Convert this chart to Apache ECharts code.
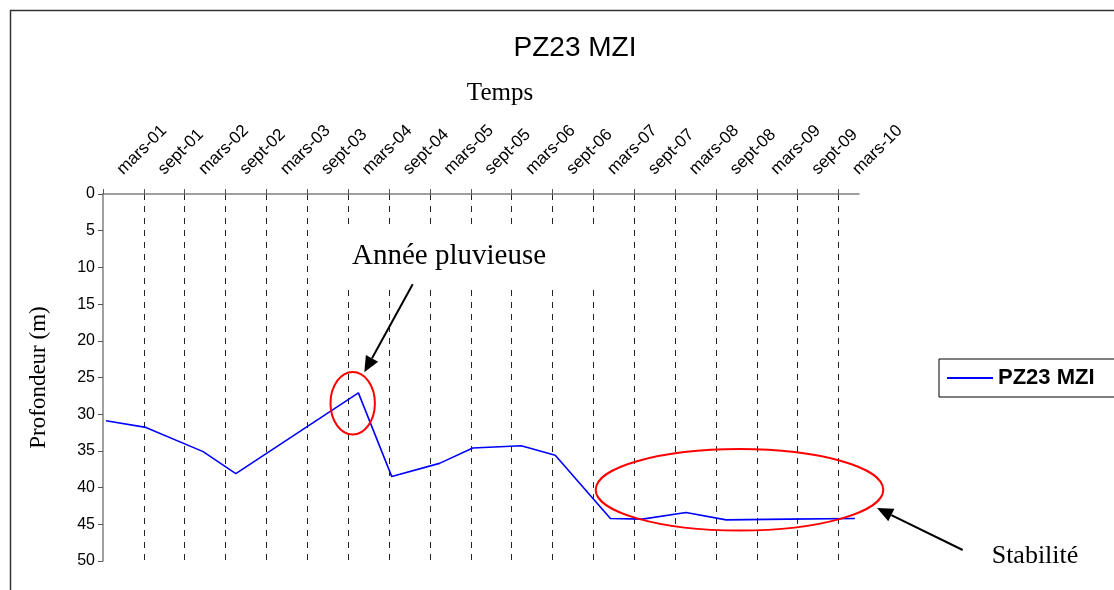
<!DOCTYPE html>
<html><head><meta charset="utf-8">
<script src="https://cdn.jsdelivr.net/npm/echarts@6/dist/echarts.min.js"></script>
<style>html,body{margin:0;padding:0;background:#fff}#c{width:1114px;height:590px}</style>
</head><body><div id="c"></div>
<script>
// ---- data ----
const chartTitle = 'PZ23 MZI';
const seriesName = 'PZ23 MZI';
const xAxisTitle = 'Temps';
const yAxisTitle = 'Profondeur (m)';
const tickLabels = ['mars-01','sept-01','mars-02','sept-02','mars-03','sept-03','mars-04','sept-04','mars-05','sept-05','mars-06','sept-06','mars-07','sept-07','mars-08','sept-08','mars-09','sept-09','mars-10'];
const obsDates = ['2001-03-14','2001-09-10','2002-05-22','2002-10-16','2004-04-16','2004-09-13','2005-04-13','2005-09-10','2006-04-13','2006-09-13','2007-05-16','2007-10-07','2008-04-19','2008-10-16','2009-07-20','2010-05-13'];
const depthValues = [30.9,31.8,35.1,38.1,27.1,38.5,36.7,34.6,34.3,35.6,44.2,44.3,43.4,44.4,44.3,44.2];
const noteRain = 'Année pluvieuse';
const noteStable = 'Stabilité';

// months since mars-01
function monthOffset(d){ const p = d.split('-').map(Number); return (p[0]-2001)*12 + (p[1]-3) + (p[2]-1)/30; }
const seriesData = obsDates.map((d,i)=>[monthOffset(d), depthValues[i]]);

const SANS = 'Liberation Sans, Arial, sans-serif';
const SERIF = 'Liberation Serif, Times New Roman, serif';

function arrow(x1,y1,x2,y2,headLen,headW){
  const dx=x2-x1, dy=y2-y1, L=Math.hypot(dx,dy), ux=dx/L, uy=dy/L;
  const bx=x2-ux*headLen, by=y2-uy*headLen;
  return [
    {type:'line', z:100, shape:{x1:x1,y1:y1,x2:bx,y2:by}, style:{stroke:'#000',lineWidth:2}},
    {type:'polygon', z:100, shape:{points:[[x2,y2],[bx-uy*headW,by+ux*headW],[bx+uy*headW,by-ux*headW]]}, style:{fill:'#000'}}
  ];
}

const chart = echarts.init(document.getElementById('c'));
chart.setOption({
  animation:false,
  backgroundColor:'#fff',
  title:{text:chartTitle, left:570, top:29, textAlign:'center',
    textStyle:{fontFamily:SANS, fontSize:28, fontWeight:'normal', color:'#000'}},
  legend:{left:939, top:359, orient:'horizontal', borderColor:'#000', borderWidth:1,
    padding:[8,40,8,8], itemWidth:46, itemHeight:2, icon:'rect',
    textStyle:{fontFamily:SANS, fontSize:22, fontWeight:'bold', color:'#000'}},
  grid:{left:103, top:194, width:756, height:367, containLabel:false},
  xAxis:{type:'value', position:'top', min:0, max:111, interval:6,
    axisLine:{show:true, lineStyle:{color:'#808080', width:1.5}},
    axisTick:{show:true, length:5, lineStyle:{color:'#555'}},
    axisLabel:{rotate:45, margin:5, padding:[0,0,0,24], fontFamily:SANS, fontSize:17, color:'#000',
      showMaxLabel:false,
      formatter:function(v){ return (v%6===0 && tickLabels[v/6]!==undefined) ? tickLabels[v/6] : ''; }},
    splitLine:{show:true, showMinLine:false, showMaxLine:false, lineStyle:{color:'#222', width:1, type:[6,6]}}
  },
  yAxis:{type:'value', inverse:true, min:0, max:50, interval:5,
    name:yAxisTitle, nameLocation:'middle', nameGap:53,
    nameTextStyle:{fontFamily:SERIF, fontSize:23, color:'#000'},
    axisLine:{show:true, lineStyle:{color:'#808080', width:1.5}},
    axisTick:{show:true, length:5, lineStyle:{color:'#555'}},
    axisLabel:{margin:8, fontFamily:SANS, fontSize:16, color:'#000'},
    splitLine:{show:false}
  },
  series:[{type:'line', name:seriesName, data:seriesData, symbol:'none', showSymbol:false,
    lineStyle:{color:'#0000ff', width:1.6}, itemStyle:{color:'#0000ff'}}],
  graphic:[
    {type:'rect', z:0, silent:true, shape:{x:10.5,y:10.5,width:1200,height:700}, style:{fill:'none', stroke:'#333', lineWidth:1.5}},
    {type:'text', z:100, style:{text:xAxisTitle, x:500, y:93, align:'center', verticalAlign:'middle', font:'25px '+SERIF, fill:'#000'}},
    {type:'rect', z:90, shape:{x:318,y:228,width:290,height:59}, style:{fill:'#fff'}},
    {type:'text', z:100, style:{text:noteRain, x:449, y:256, align:'center', verticalAlign:'middle', font:'29px '+SERIF, fill:'#000'}},
    {type:'text', z:100, style:{text:noteStable, x:1035, y:556, align:'center', verticalAlign:'middle', font:'26px '+SERIF, fill:'#000'}},
    {type:'ellipse', z:100, shape:{cx:352.7, cy:403.3, rx:22.2, ry:31.3}, style:{fill:'none', stroke:'#ff0000', lineWidth:2}},
    {type:'ellipse', z:100, shape:{cx:739.5, cy:489.8, rx:143.8, ry:40.8}, style:{fill:'none', stroke:'#ff0000', lineWidth:2}}
  ].concat(arrow(412.7,284.3,364.3,372.3,16,7)).concat(arrow(962.7,550,877,508,16,7))
});
</script></body></html>
